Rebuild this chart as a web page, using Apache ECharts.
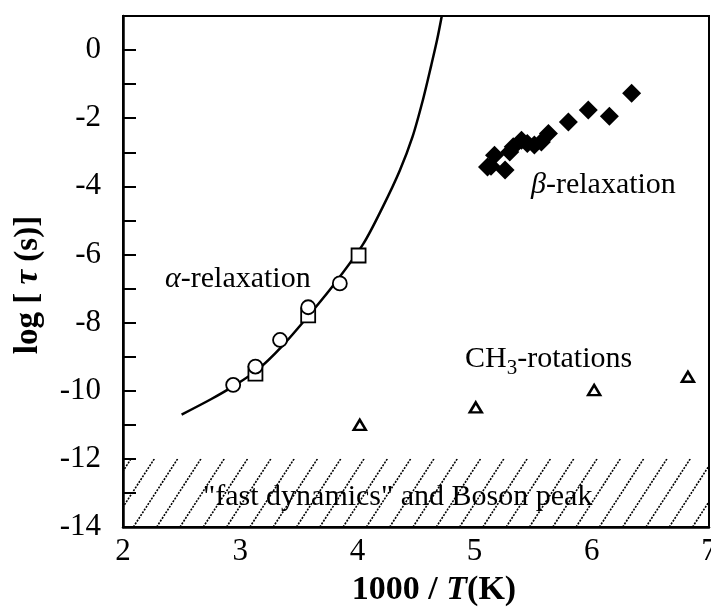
<!DOCTYPE html>
<html>
<head>
<meta charset="utf-8">
<script src="https://cdn.jsdelivr.net/npm/echarts@6/dist/echarts.min.js"></script>
<style>
html, body { margin: 0; padding: 0; background: #fff; }
#chart { width: 711px; height: 612px; }
</style>
</head>
<body>
<div id="chart"></div>
<script>
// alpha relaxation, open circles
var alphaCircX = [2.94, 3.13, 3.34, 3.58, 3.85];
var alphaCircY = [-9.83, -9.29, -8.51, -7.55, -6.85];
// alpha relaxation, open squares
var alphaSqX = [3.13, 3.58, 4.01];
var alphaSqY = [-9.5, -7.79, -6.03];
// fit line
var fitX = [2.5, 2.75, 2.95, 3.15, 3.35, 3.57, 3.8, 4.05, 4.22, 4.36, 4.47, 4.56, 4.63, 4.68, 4.72];
var fitY = [-10.7, -10.25, -9.85, -9.38, -8.72, -7.85, -6.88, -5.69, -4.58, -3.55, -2.55, -1.45, -0.45, 0.3, 1.0];
// beta relaxation, filled diamonds
var betaX = [5.11, 5.14, 5.17, 5.26, 5.30, 5.33, 5.40, 5.45, 5.51, 5.57, 5.63, 5.80, 5.97, 6.15, 6.34];
var betaY = [-3.43, -3.41, -3.09, -3.52, -2.99, -2.84, -2.65, -2.74, -2.79, -2.70, -2.45, -2.11, -1.76, -1.94, -1.27];
// CH3 rotations, open triangles
var ch3X = [4.02, 5.01, 6.02, 6.82];
var ch3Y = [-11.0, -10.49, -9.98, -9.59];
// "fast dynamics" band: [xFrom, yFrom, xTo, yTo]
var fastBand = [2, -14, 7, -12];

var xMin = 2, xMax = 7;
var yMin = -14, yMax = 1;

function pairs(xs, ys) {
  return xs.map(function (x, i) { return [x, ys[i]]; });
}

var font = "'Liberation Serif', 'DejaVu Serif', serif";
var chart = echarts.init(document.getElementById('chart'));

// hatched band, diagonal dotted lines
function renderHatch(params, api) {
  var p0 = api.coord([api.value(0), api.value(1)]);
  var p1 = api.coord([api.value(2), api.value(3)]);
  var h = p0[1] - p1[1];
  var run = h / Math.tan(57 * Math.PI / 180);
  var step = 23.3;
  var lines = [];
  for (var x = p0[0] - run + 8; x < p1[0] + step; x += step) {
    lines.push({
      type: 'line',
      shape: { x1: x, y1: p0[1], x2: x + run, y2: p1[1] },
      style: { stroke: '#000', lineWidth: 1.6, lineDash: [2, 1.3] }
    });
  }
  return {
    type: 'group',
    clipPath: { type: 'rect', shape: { x: p0[0], y: p1[1], width: p1[0] - p0[0], height: h } },
    children: lines
  };
}

var option = {
  animation: false,
  backgroundColor: '#fff',
  grid: {
    left: 123, right: 2, top: 16, bottom: 85,
    containLabel: false,
    outerBoundsMode: 'none',
    show: true, borderColor: '#000', borderWidth: 2
  },
  xAxis: {
    type: 'value',
    min: xMin, max: xMax, interval: 1,
    axisLine: { show: true, onZero: false, lineStyle: { color: '#000', width: 2.5 } },
    axisTick: { show: false },
    splitLine: { show: false },
    axisLabel: { fontFamily: font, fontSize: 31, color: '#000', margin: 9 }
  },
  yAxis: {
    type: 'value',
    min: yMin, max: yMax, interval: 1,
    axisLine: { show: true, onZero: false, lineStyle: { color: '#000', width: 2.5 } },
    axisTick: { show: true, inside: true, length: 13, lineStyle: { color: '#000', width: 2 } },
    splitLine: { show: false },
    axisLabel: {
      fontFamily: font, fontSize: 31, color: '#000', margin: 22,
      formatter: function (v) { return v % 2 === 0 ? String(v) : ''; }
    }
  },
  series: [
    {
      type: 'custom',
      renderItem: renderHatch,
      data: [fastBand],
      encode: { x: [0, 2], y: [1, 3] },
      clip: true,
      silent: true,
      z: 1
    },
    {
      type: 'line',
      data: pairs(fitX, fitY),
      smooth: 0.3,
      showSymbol: false,
      lineStyle: { color: '#000', width: 2.5 },
      z: 2
    },
    {
      type: 'scatter',
      data: pairs(alphaSqX, alphaSqY),
      symbol: 'rect',
      symbolSize: 14,
      itemStyle: { color: '#fff', borderColor: '#000', borderWidth: 1.8, opacity: 1 },
      z: 3
    },
    {
      type: 'scatter',
      data: pairs(alphaCircX, alphaCircY),
      symbol: 'circle',
      symbolSize: 14,
      itemStyle: { color: '#fff', borderColor: '#000', borderWidth: 1.8, opacity: 1 },
      z: 4
    },
    {
      type: 'scatter',
      data: pairs(betaX, betaY),
      symbol: 'diamond',
      symbolSize: 19,
      itemStyle: { color: '#000', opacity: 1 },
      z: 4
    },
    {
      type: 'scatter',
      data: pairs(ch3X, ch3Y),
      symbol: 'triangle',
      symbolSize: [12, 10],
      itemStyle: { color: '#fff', borderColor: '#000', borderWidth: 2.5, opacity: 1 },
      z: 4
    }
  ],
  graphic: [
    {
      type: 'text', x: 28, y: 285, rotation: Math.PI / 2,
      style: {
        text: 'log [ {i|τ} (s)]',
        font: 'bold 33px ' + font, fill: '#000',
        align: 'center', verticalAlign: 'middle',
        rich: { i: { fontFamily: font, fontSize: 33, fontWeight: 'bold', fontStyle: 'italic' } }
      }
    },
    {
      type: 'text', x: 434, y: 590,
      style: {
        text: '1000 / {i|T}(K)',
        font: 'bold 34px ' + font, fill: '#000',
        align: 'center', verticalAlign: 'middle',
        rich: { i: { fontFamily: font, fontSize: 34, fontWeight: 'bold', fontStyle: 'italic' } }
      }
    },
    {
      type: 'text', left: 165, top: 264,
      style: {
        text: '{i|α}-relaxation',
        font: '30px ' + font, fill: '#000',
        rich: { i: { fontStyle: 'italic', fontFamily: font, fontSize: 30 } }
      }
    },
    {
      type: 'text', left: 531, top: 170,
      style: {
        text: '{i|β}-relaxation',
        font: '30px ' + font, fill: '#000',
        rich: { i: { fontStyle: 'italic', fontFamily: font, fontSize: 30 } }
      }
    },
    {
      type: 'text', left: 465, top: 344,
      style: {
        text: 'CH{s|3}-rotations',
        font: '30px ' + font, fill: '#000',
        rich: { s: { fontFamily: font, fontSize: 21, padding: [18, 0, 0, 0] } }
      }
    },
    {
      type: 'text', left: 203, top: 482,
      style: {
        text: '"fast dynamics" and Boson peak',
        font: '30px ' + font, fill: '#000'
      }
    }
  ]
};

chart.setOption(option);
</script>
</body>
</html>
